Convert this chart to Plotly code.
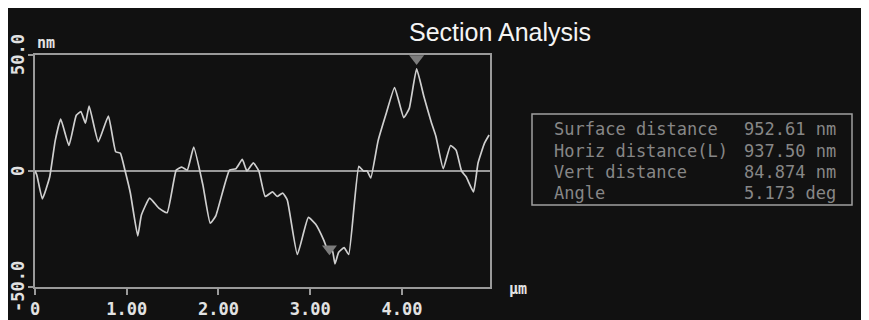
import plotly.graph_objects as go

# ---- data ----
profile_x_um = [0.00, 0.02, 0.08, 0.16, 0.22, 0.28, 0.37, 0.45, 0.50, 0.55, 0.59, 0.69, 0.80, 0.88, 0.93,
                0.98, 1.04, 1.12, 1.16, 1.25, 1.35, 1.44, 1.54, 1.60, 1.66, 1.73, 1.83, 1.91, 1.97, 2.12,
                2.19, 2.26, 2.31, 2.38, 2.44, 2.51, 2.59, 2.64, 2.70, 2.75, 2.86, 2.98, 3.06, 3.15, 3.20,
                3.24, 3.27, 3.31, 3.37, 3.42, 3.53, 3.58, 3.62, 3.66, 3.74, 3.83, 3.92, 4.02, 4.08, 4.16,
                4.24, 4.32, 4.37, 4.45, 4.53, 4.59, 4.65, 4.70, 4.78, 4.83, 4.90, 4.95]
profile_y_nm = [0.0, -1.7, -12.0, -2.6, 13.0, 22.4, 11.0, 24.0, 25.6, 20.6, 28.0, 12.6, 23.7, 8.3, 7.7,
                0.4, -9.6, -28.0, -19.0, -11.7, -16.0, -18.0, 0.4, 1.7, 0.4, 10.3, -6.0, -22.5, -19.4, 0.4,
                1.0, 5.0, 0.0, 3.5, 0.0, -11.0, -9.0, -11.0, -9.5, -12.5, -36.0, -20.0, -23.0, -30.0, -35.0,
                -34.0, -40.0, -35.0, -33.0, -36.0, 2.0, 0.0, 0.0, -3.0, 13.0, 25.0, 36.0, 23.0, 27.0, 44.0,
                32.0, 21.0, 15.0, 1.0, 11.0, 9.0, 0.0, -2.5, -9.0, 3.5, 12.0, 15.5]

cursor_x_um = [4.16, 3.21]
cursor_y_nm = [48.5, -33.5]

x_tick_vals = [0, 1, 2, 3, 4]
x_tick_text = ["0", "1.00", "2.00", "3.00", "4.00"]
y_tick_vals = [-50, 0, 50]
y_tick_text = ["-50.0", "0", "50.0"]

info_labels = ["Surface distance", "Horiz distance(L)", "Vert distance", "Angle"]
info_values = ["952.61 nm", "937.50 nm", "84.874 nm", "5.173 deg"]

title_text = "Section Analysis"
x_unit = "µm"
y_unit = "nm"

# ---- layout geometry (pixels, measured on the screenshot; page has an 8px body margin) ----
OFF = 8
W, H = 869 + OFF, 320 + OFF
L, R, T, B = 35 - OFF, 490 - OFF, 55 - OFF, 287 - OFF
pw, ph = R - L, B - T


def px(xs):
    return (xs - OFF - L) / pw


def py(ys):
    return (B - (ys - OFF)) / ph


BG = "#111111"
AX = "#9a9a9a"
TXT = "#e2e2e2"
MONO = "DejaVu Sans Mono"

fig = go.Figure()

fig.add_trace(go.Scatter(
    x=profile_x_um, y=profile_y_nm, mode="lines",
    line=dict(color="#cfcfcf", width=1.7, shape="spline", smoothing=0.4),
    hoverinfo="skip", showlegend=False,
))

fig.add_trace(go.Scatter(
    x=cursor_x_um, y=cursor_y_nm, mode="markers",
    marker=dict(symbol="triangle-down", size=13, color="#7c7c7c", line=dict(width=0)),
    cliponaxis=False, hoverinfo="skip", showlegend=False,
))

axis_common = dict(
    showline=True, linecolor=AX, linewidth=1.5, mirror=True, automargin=False,
    showgrid=False, ticks="outside", tickcolor=AX, tickwidth=1.5,
)

fig.update_xaxes(range=[0, 4.96], tickvals=x_tick_vals, ticktext=x_tick_text,
                 zeroline=False, ticklen=6,
                 tickfont=dict(family=MONO, size=17, color=TXT, weight="bold"),
                 **axis_common)
fig.update_yaxes(range=[-50, 50], tickvals=y_tick_vals, showticklabels=False,
                 zeroline=True, zerolinecolor=AX, zerolinewidth=1.5,
                 ticklen=5, **axis_common)

annotations = [
    dict(text=title_text, x=px(500), y=py(32), xref="paper", yref="paper",
         showarrow=False, xanchor="center", yanchor="middle",
         font=dict(family="Liberation Sans", size=25, color="#f4f4f4")),
    dict(text=y_unit, x=px(35), y=py(43), xref="paper", yref="paper",
         showarrow=False, xanchor="left", yanchor="middle",
         font=dict(family=MONO, size=15, color=TXT, weight="bold")),
    dict(text=x_unit, x=px(507), y=py(289), xref="paper", yref="paper",
         showarrow=False, xanchor="left", yanchor="middle",
         font=dict(family=MONO, size=15, color=TXT, weight="bold")),
]

# rotated y tick labels (placed at the tick values, kept inside the page)
for tv, tt in zip(y_tick_vals, y_tick_text):
    annotations.append(dict(text=tt, x=px(18), y=tv, xref="paper", yref="y",
                            showarrow=False, xanchor="center", yanchor="middle",
                            textangle=-90, borderpad=0,
                            font=dict(family=MONO, size=17, color=TXT, weight="bold")))

row_y = [129, 151, 172, 193]
for lab, val, ry in zip(info_labels, info_values, row_y):
    annotations.append(dict(text=lab, x=px(552), y=py(ry), xref="paper", yref="paper",
                            showarrow=False, xanchor="left", yanchor="middle",
                            font=dict(family=MONO, size=17, color="#878787")))
    annotations.append(dict(text=val, x=px(838), y=py(ry), xref="paper", yref="paper",
                            showarrow=False, xanchor="right", yanchor="middle",
                            font=dict(family=MONO, size=17, color="#878787")))

shapes = [
    dict(type="rect", xref="paper", yref="paper", x0=px(532), x1=px(852), y0=py(205), y1=py(114),
         line=dict(color="#a0a0a0", width=1.5), fillcolor="rgba(0,0,0,0)"),
]

fig.update_layout(
    width=W, height=H,
    margin=dict(l=L, r=W - R, t=T, b=H - B, pad=0),
    paper_bgcolor=BG, plot_bgcolor=BG,
    annotations=annotations, shapes=shapes,
    showlegend=False,
)

fig.write_html("out.html",
               post_script="document.documentElement.style.overflow='hidden';"
                           "document.body.style.overflow='hidden';")
